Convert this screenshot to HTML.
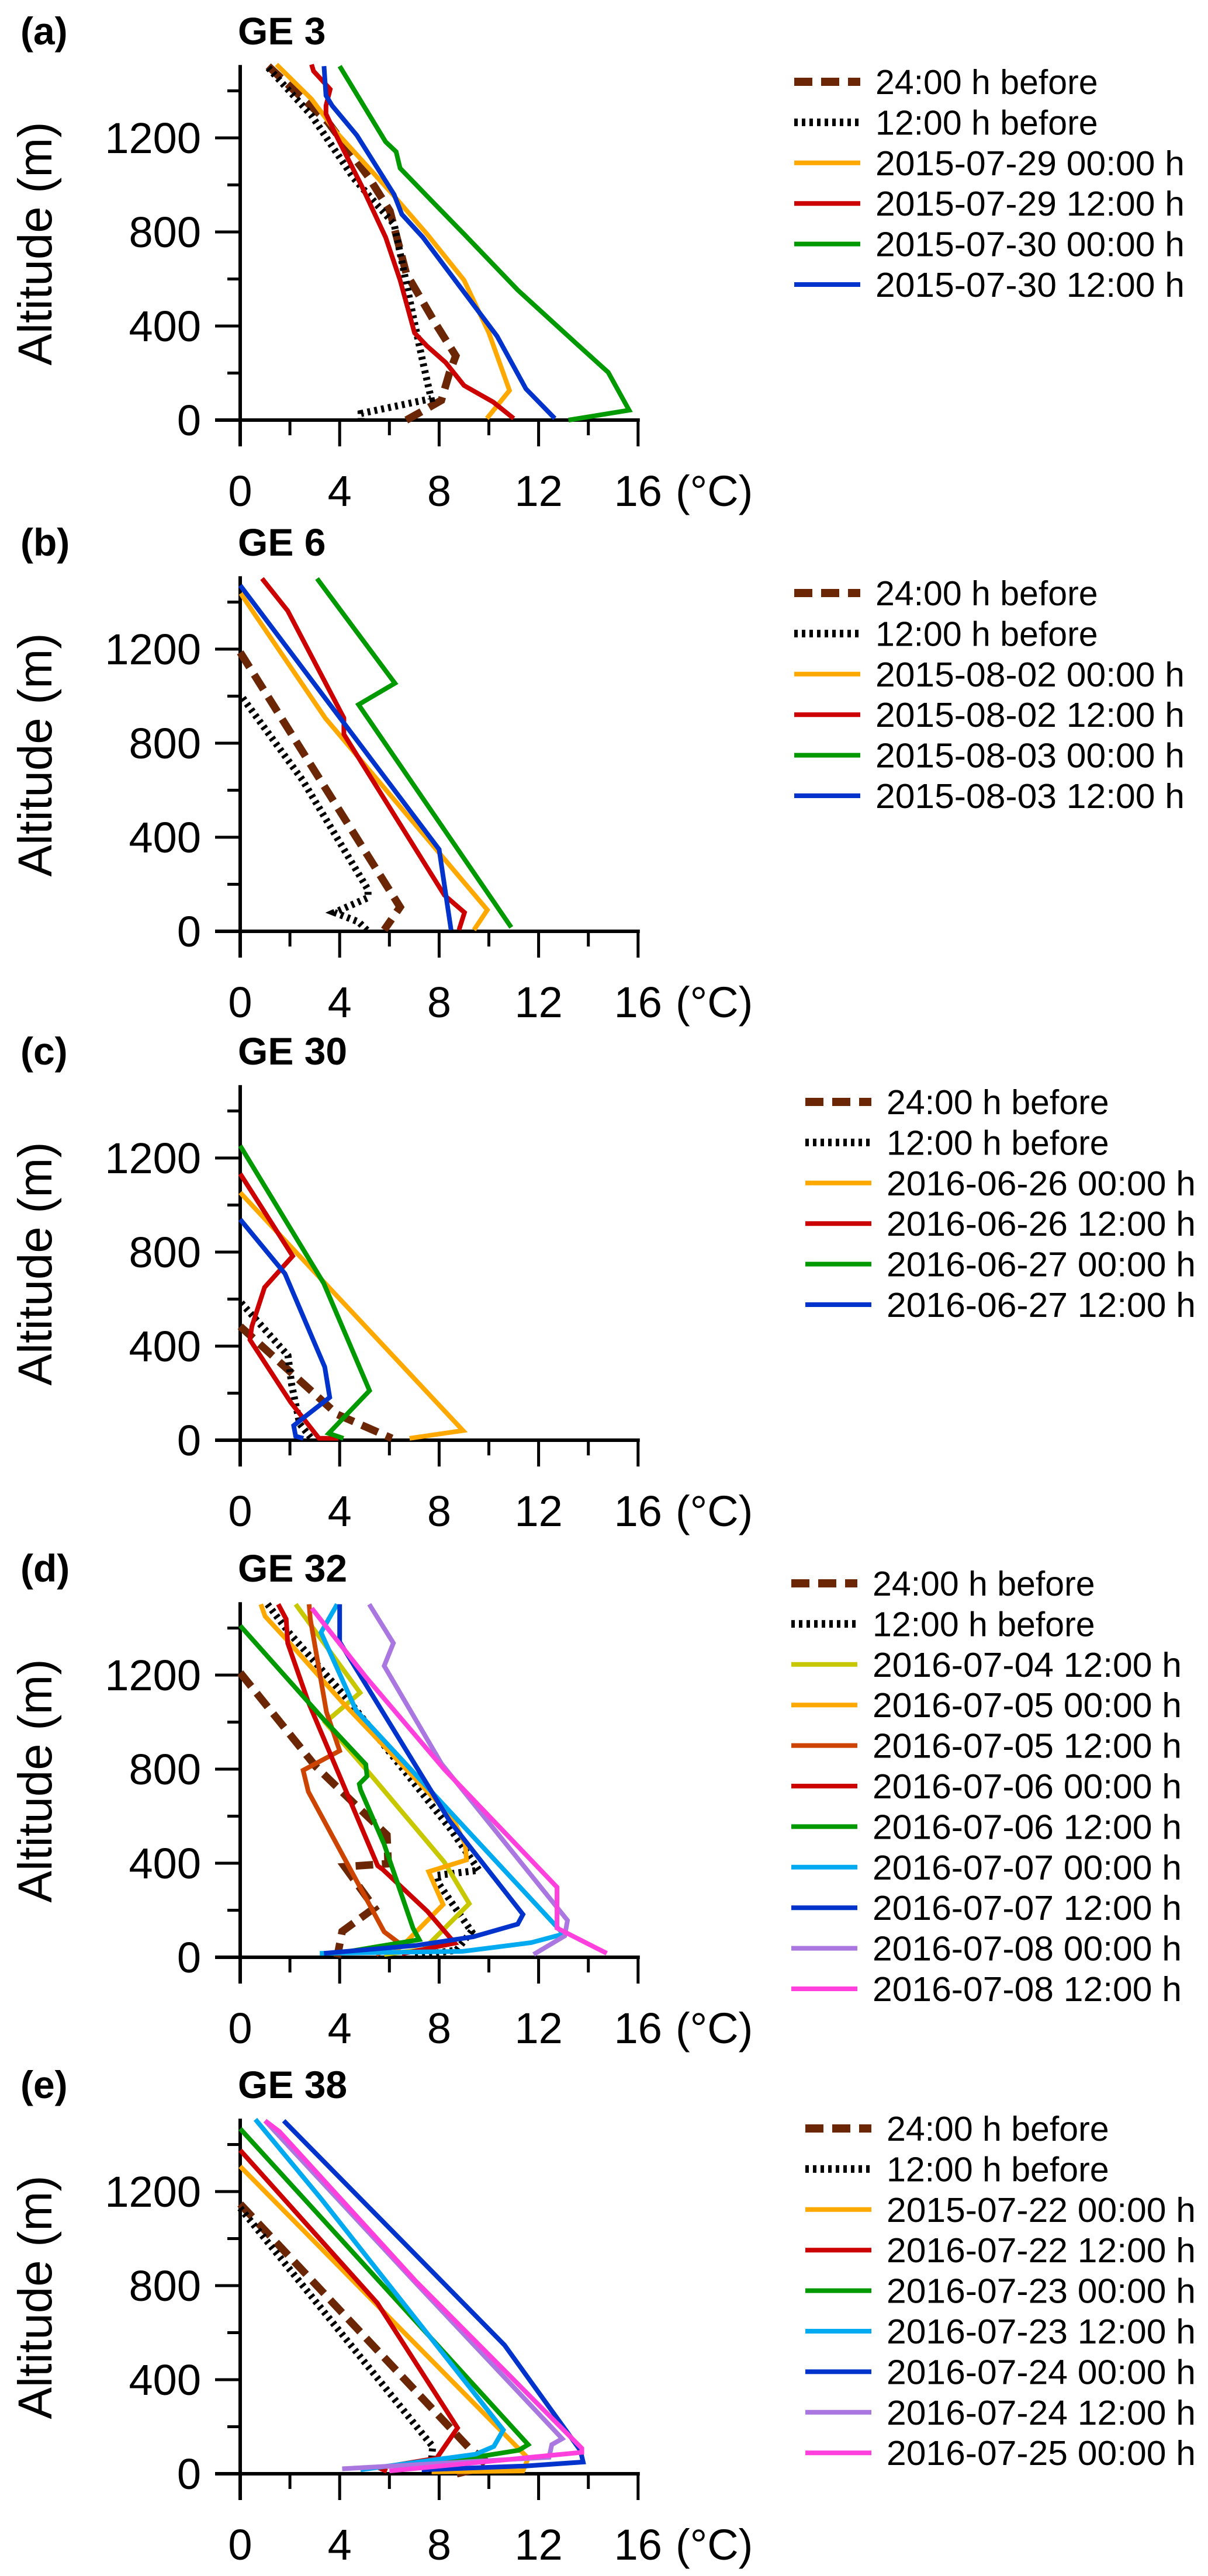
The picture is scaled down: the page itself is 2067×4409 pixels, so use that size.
<!DOCTYPE html>
<html><head><meta charset="utf-8"><style>
html,body{margin:0;padding:0;background:#fff;}
svg{display:block;font-family:"Liberation Sans",Arial,sans-serif;}
</style></head><body>
<svg id="fig" width="2067" height="4409" viewBox="0 0 2067 4409" xmlns="http://www.w3.org/2000/svg"></svg>
<script>
// ---- data (temperature °C, altitude m) ----
const panelIds = ["a","b","c","d","e"];
const panelTitles = ["GE 3","GE 6","GE 30","GE 32","GE 38"];
const xTicks = [0,4,8,12,16];
const yTicks = [0,400,800,1200];

const aNames = ["24:00 h before","12:00 h before","2015-07-29 00:00 h","2015-07-29 12:00 h","2015-07-30 00:00 h","2015-07-30 12:00 h"];
const aTemp = [
 [1.13,3.53,5.19,6.02,6.68,7.84,8.67,8.42,8.09,7.51,6.68],
 [1.13,2.87,4.56,6.19,6.52,7.01,7.35,7.68,4.86,4.86],
 [1.46,2.87,3.86,6.02,7.51,9.0,10.0,10.83,9.92],
 [2.87,2.95,3.62,3.45,3.45,3.86,4.86,5.85,6.43,7.01,7.51,8.26,9.0,10.17,11.0],
 [4.0,5.85,6.27,6.43,7.84,9.0,11.16,13.48,14.8,15.64,13.2],
 [3.37,3.45,3.7,4.69,6.19,6.5,7.35,8.84,10.33,11.49,12.65]];
const aAlt = [
 [1505,1267,1029,889,623,413,273,203,84,49,0],
 [1498,1295,1029,833,665,413,245,91,28,7],
 [1512,1365,1225,973,791,595,371,126,7],
 [1512,1484,1407,1337,1302,1211,1001,777,595,371,315,245,147,77,7],
 [1505,1183,1141,1071,917,791,553,329,203,42,0],
 [1505,1380,1337,1211,959,875,777,567,357,133,7]];

const bNames = ["24:00 h before","12:00 h before","2015-08-02 00:00 h","2015-08-02 12:00 h","2015-08-03 00:00 h","2015-08-03 12:00 h"];
const bTemp = [
 [0,6.43,5.79],
 [0.1,2.5,5.14,5.14,3.79,4.76,5.14],
 [0.02,0.56,3.42,9.94,9.4],
 [0.88,1.91,4.17,4.17,8.21,9.02,8.8],
 [3.09,6.22,4.76,10.9],
 [0,8.0,8.48]];
const bAlt = [
 [1186,103,6],
 [992,644,177,143,80,40,0],
 [1437,1352,907,91,6],
 [1500,1363,907,838,154,80,6],
 [1500,1055,964,17],
 [1471,348,6]];

const cNames = ["24:00 h before","12:00 h before","2016-06-26 00:00 h","2016-06-26 12:00 h","2016-06-27 00:00 h","2016-06-27 12:00 h"];
const cTemp = [
 [0,3.9,6.1],
 [0.04,1.92,2.07,2.39,2.86],
 [0,8.96,6.81],
 [0,2.11,0.98,0.47,0.39,2.03,3.17,3.95],
 [0,3.36,5.2,3.56,4.15],
 [0,1.8,3.4,3.6,2.7,2.15,2.23,2.54]];
const cAlt = [
 [484,110,8],
 [584,360,236,70,8],
 [1053,41,8],
 [1133,783,650,484,427,161,8,8],
 [1252,667,211,29,8],
 [939,708,311,182,108,62,17,8]];

const dNames = ["24:00 h before","12:00 h before","2016-07-04 12:00 h","2016-07-05 00:00 h","2016-07-05 12:00 h","2016-07-06 00:00 h","2016-07-06 12:00 h","2016-07-07 00:00 h","2016-07-07 12:00 h","2016-07-08 00:00 h","2016-07-08 12:00 h"];
const dTemp = [
 [0,3.04,5.9,5.95,4.2,5.4,4.1,3.9],
 [1.1,1.96,4.33,8.43,9.6,7.9,8.0,9.3,8.7,6.9],
 [2.23,4.82,3.42,5.16,8.2,9.21,7.37,5.79],
 [0.83,1.0,1.9,4.1,8.53,9.05,9.1,7.58,8.16,6.53,6.2],
 [2.77,2.82,3.47,4.0,2.53,2.74,5.79,6.42,5.47],
 [1.53,1.85,1.91,2.74,5.53,5.74,7.53,8.63,6.5],
 [0,3.37,5.05,5.1,4.79,4.84,5.79,6.95,7.2,4.1],
 [3.9,3.25,4.66,13.0,11.7,8.95,3.2],
 [4.0,4.0,8.42,11.37,11.16,9.37,7.05,3.37],
 [5.19,6.16,5.79,8.1,13.16,13.05,11.8],
 [2.88,5.09,8.2,12.74,12.74,14.74]];
const dAlt = [
 [1210,811,520,398,385,210,110,0],
 [1501,1381,1096,549,370,348,310,110,30,5],
 [1501,1125,999,787,406,228,33,12],
 [1501,1450,1347,1085,594,480,414,364,224,50,25],
 [1501,1438,1043,878,795,704,108,58,12],
 [1501,1438,1336,1085,389,373,195,60,15],
 [1410,1010,820,770,737,712,480,124,75,20],
 [1501,1381,1050,99,62,25,17],
 [1501,1341,580,182,141,87,50,17],
 [1501,1336,1239,822,157,91,12],
 [1484,1187,800,298,124,17]];

const eNames = ["24:00 h before","12:00 h before","2015-07-22 00:00 h","2016-07-22 12:00 h","2016-07-23 00:00 h","2016-07-23 12:00 h","2016-07-24 00:00 h","2016-07-24 12:00 h","2016-07-25 00:00 h"];
const eTemp = [
 [0,9.2,9.8,9.5,8.7],
 [0,7.74,7.7,7.58],
 [0,11.58,11.37,7.7],
 [0,5.52,8.74,7.9,5.58,5.9],
 [0,11.58,11.2,7.7],
 [0.61,3.25,10.58,10.2,9.47,4.84],
 [1.75,10.63,13.68,13.79,11.47,7.3],
 [1.0,7.05,12.95,12.53,12.42,4.1],
 [1.0,1.58,7.05,13.74,13.74,6.0]];
const eAlt = [
 [1147,110,60,20,0],
 [1130,116,66,8],
 [1307,66,12,8],
 [1376,725,195,66,25,10],
 [1467,124,100,41],
 [1507,1170,186,116,83,17],
 [1501,547,99,50,33,17],
 [1501,812,149,124,70,21],
 [1501,1455,820,108,91,12]];

// ---- styles ----
const BROWN="#6b2606", BLACK="#000", ORANGE="#ffa800", RED="#cc0000", GREEN="#009900", BLUE="#0033cc",
      YG="#c8c800", DKOR="#cc4400", LBLUE="#00aaf0", LAV="#aa77e0", MAG="#ff40dd";
const aColors=[BROWN,BLACK,ORANGE,RED,GREEN,BLUE];
const dColors=[BROWN,BLACK,YG,ORANGE,DKOR,RED,GREEN,LBLUE,BLUE,LAV,MAG];
const eColors=[BROWN,BLACK,ORANGE,RED,GREEN,LBLUE,BLUE,LAV,MAG];

const panelNames=[aNames,bNames,cNames,dNames,eNames];
const panelTemps=[aTemp,bTemp,cTemp,dTemp,eTemp];
const panelAlts=[aAlt,bAlt,cAlt,dAlt,eAlt];
const panelColors=[aColors,aColors,aColors,dColors,eColors];
const panelY0=[719,1594,2465,3350,4234];
const legendTop=[-579,-579,-579,-640,-591];
const legendX=[1359,1359,1378,1354,1378];

const X0=411, PXC=42.55, PXM=0.4025;
const NS="http://www.w3.org/2000/svg";
const svg=document.getElementById("fig");
function mk(tag,attrs,parent){const e=document.createElementNS(NS,tag);for(const k in attrs)e.setAttribute(k,attrs[k]);(parent||svg).appendChild(e);return e;}
function sx(t){return X0+t*PXC;}
function sy(y0,z){return y0-z*PXM;}
function styleLine(el,i,color){
  el.setAttribute("stroke",color);el.setAttribute("fill","none");
  el.setAttribute("stroke-linejoin","miter");
  if(i===0){el.setAttribute("stroke-width","13");el.setAttribute("stroke-dasharray","30 15");}
  else if(i===1){el.setAttribute("stroke-width","12");el.setAttribute("stroke-dasharray","5 7");}
  else{el.setAttribute("stroke-width","8");}
}

panelIds.forEach((pid,p)=>{
  const y0=panelY0[p];
  const g=mk("g",{});
  
  
  const lab=mk("text",{x:35,y:y0-643,"font-size":66,"font-weight":"bold"},g);
  lab.textContent="("+pid+")";
  
  
  const tt=mk("text",{x:407,y:y0-643,"font-size":66,"font-weight":"bold"},g);
  tt.textContent=panelTitles[p];
  
  
  // y axis title
  const yl=mk("text",{x:0,y:0,"font-size":82,"text-anchor":"middle",transform:"translate(88,"+(y0-302)+") rotate(-90)",textLength:417,lengthAdjust:"spacingAndGlyphs"},g);
  yl.textContent="Altitude (m)";
  
  
  // axes
  const ya=mk("line",{x1:X0,y1:sy(y0,1510),x2:X0,y2:y0+45,stroke:"#000","stroke-width":6},g);
  
  
  const xa=mk("line",{x1:X0-43,y1:y0,x2:sx(16)+3,y2:y0,stroke:"#000","stroke-width":6},g);
  
  
  for(let v=200;v<=1400;v+=200){
    const major=(v%400===0);
    const tk=mk("line",{x1:X0-(major?43:22),y1:sy(y0,v),x2:X0,y2:sy(y0,v),stroke:"#000","stroke-width":5},g);
    
    
  }
  for(let v=2;v<=16;v+=2){
    const major=(v%4===0);
    const tk=mk("line",{x1:sx(v),y1:y0,x2:sx(v),y2:y0+(major?45:26),stroke:"#000","stroke-width":5},g);
    
    
  }
  yTicks.forEach(v=>{
    const t=mk("text",{x:X0-67,y:sy(y0,v)+26,"font-size":74,"text-anchor":"end"},g);
    t.textContent=String(v);
    
    
  });
  xTicks.forEach(v=>{
    const t=mk("text",{x:sx(v),y:y0+147,"font-size":74,"text-anchor":"middle"},g);
    t.textContent=String(v);
    
    
  });
  const unit=mk("text",{x:1156,y:y0+147,"font-size":74},g);
  unit.textContent="(°C)";
  
  
  // series
  const temps=panelTemps[p], alts=panelAlts[p], cols=panelColors[p], names=panelNames[p];
  temps.forEach((ts,i)=>{
    const pts=ts.map((t,k)=>sx(t).toFixed(1)+","+sy(y0,alts[i][k]).toFixed(1)).join(" ");
    const pl=mk("polyline",{points:pts},g);
    styleLine(pl,i,cols[i]);
    
    
  });
  // legend
  const lx=legendX[p];
  names.forEach((nm,i)=>{
    const yy=y0+legendTop[p]+i*69.4;
    const ll=mk("line",{x1:lx,y1:yy,x2:lx+113,y2:yy},g);
    styleLine(ll,i,cols[i]);
    if(i===0){ll.setAttribute("stroke-dasharray","31 15");ll.setAttribute("stroke-width","14");}
    if(i===1){ll.setAttribute("stroke-dasharray","6 7");ll.setAttribute("stroke-width","13");}
    
    
    const lt=mk("text",{x:lx+139,y:yy+21,"font-size":59},g);
    lt.textContent=nm;
    if(i>=2){lt.setAttribute("textLength","529");lt.setAttribute("lengthAdjust","spacingAndGlyphs");}
    
    
  });
});
</script>
</body></html>
